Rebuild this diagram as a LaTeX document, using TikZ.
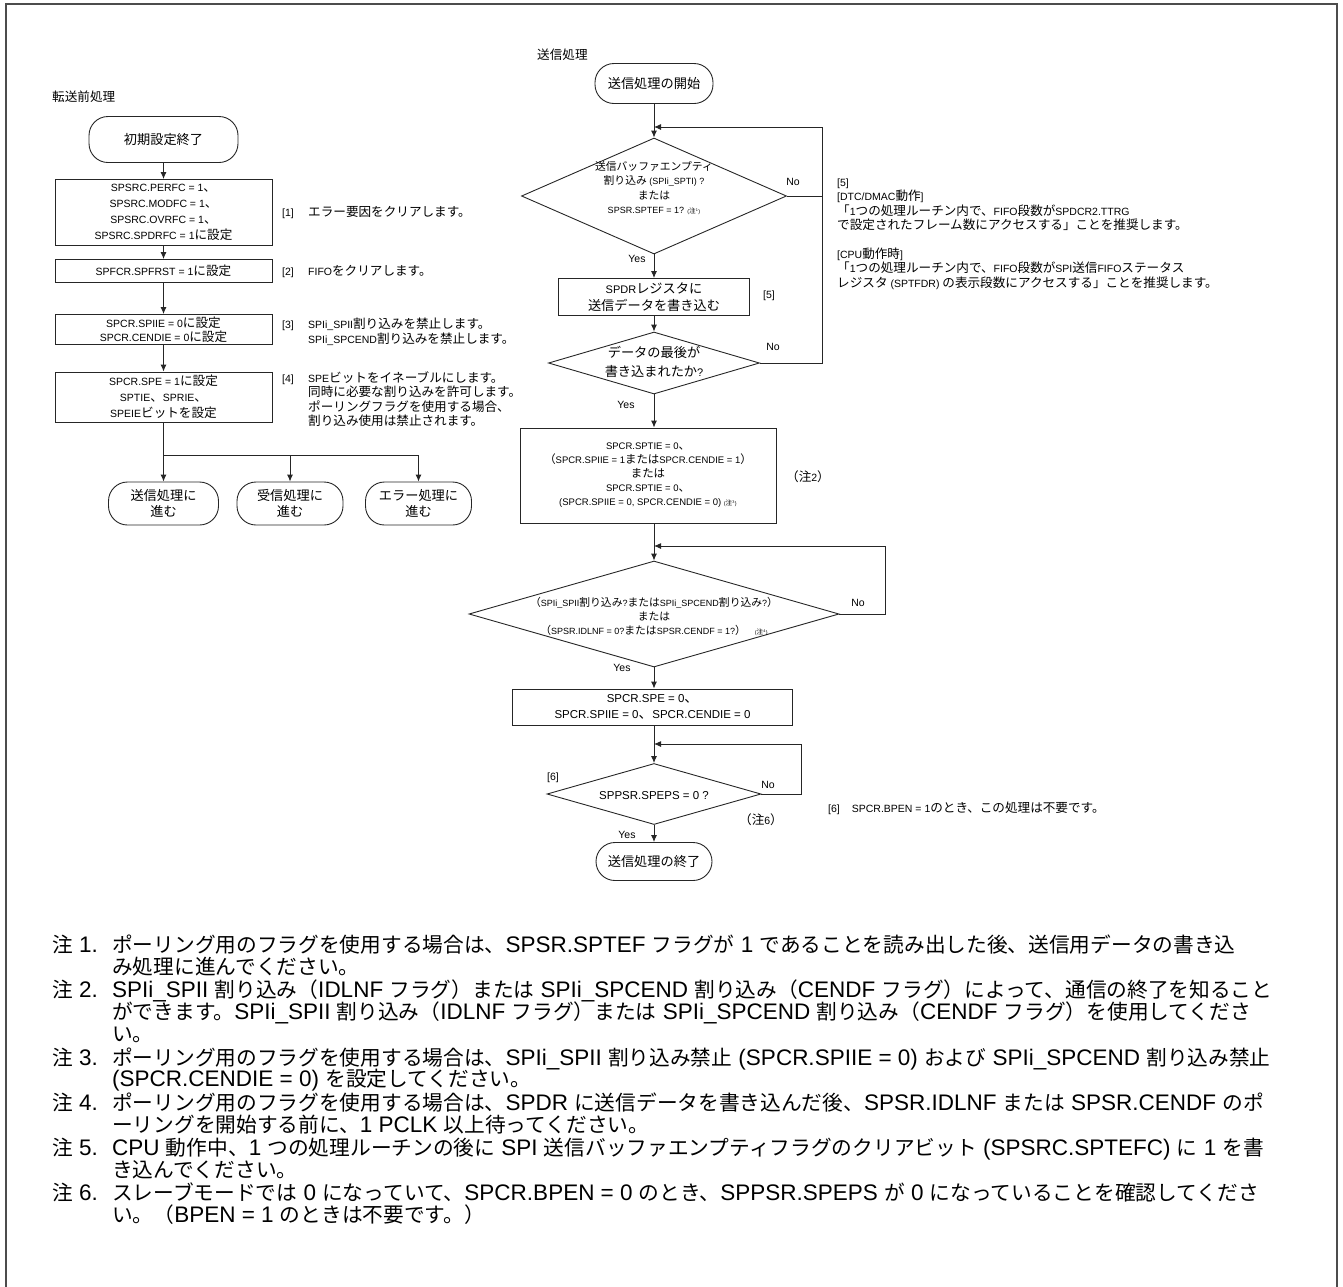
\documentclass[tikz,border=0pt]{standalone}
\usepackage{fontspec}
\usetikzlibrary{shapes.geometric,arrows.meta}
\setmainfont{Liberation Sans}
\newfontfamily\cjkA[Scale=1.2]{Noto Sans CJK JP}
\newfontfamily\cjkB[Scale=0.92]{Noto Sans CJK JP}
\def\cjksw{\cjkA}
\XeTeXinterchartokenstate=1
\newXeTeXintercharclass\cjkcls
\newcount\cjkc
\def\setcls#1#2#3{\cjkc=#1\relax\loop\XeTeXcharclass\cjkc=#3\relax\ifnum\cjkc<#2\relax\advance\cjkc by 1\relax\repeat}
\setcls{"0020}{"024F}{0}
\setcls{"2000}{"206F}{0}
\setcls{"3000}{"30FF}{\cjkcls}
\setcls{"4E00}{"9FFF}{\cjkcls}
\setcls{"FF00}{"FFEF}{\cjkcls}
\XeTeXinterchartoks 0 \cjkcls = {\cjksw}
\XeTeXinterchartoks 4095 \cjkcls = {\cjksw}
\XeTeXinterchartoks \cjkcls 0 = {\rmfamily}
\XeTeXinterchartoks \cjkcls 4095 = {\rmfamily}
\newcommand\annlab[1]{\makebox[26pt][l]{#1}}
\newcommand\chu[1]{{\fontsize{5.5}{6}\selectfont (注\textsuperscript{#1})}}
\begin{document}
\begin{tikzpicture}[x=1pt,y=-1pt,
  ln/.style={line width=0.9pt,draw=black!85},
  arr/.style={ln,-{Latex[length=7pt,width=6pt]}},
  box/.style={draw=black!85,line width=0.9pt,rectangle,inner sep=0pt,align=center},
  term/.style={box,rounded corners=19pt},
  dia/.style={draw=black!85,line width=0.9pt,diamond,inner sep=0pt},
  lbl/.style={inner sep=0pt,align=center,font=\fontsize{10.5}{13}\selectfont},
  ann/.style={inner sep=0pt,align=left,font=\fontsize{10.5}{14.5}\selectfont},
  note/.style={inner sep=0pt,anchor=base west,font=\fontsize{22.5}{22.5}\selectfont\let\cjksw\cjkB}]
\useasboundingbox (0,0) rectangle (1343,1286);
\draw[line width=1.4pt,draw=black!70] (6,1300) -- (6,4) -- (1337,4) -- (1337,1300);

% ---------- left column ----------
\node[lbl,anchor=west] (tl) at (52,97) {転送前処理};
\node[term,minimum width=149pt,minimum height=46pt,font=\fontsize{11}{14}\selectfont] (t0) at (163.5,139.5) {初期設定終了};
\node[box,minimum width=217pt,minimum height=66pt,font=\fontsize{10.5}{16}\selectfont] (b1) at (163.5,212.5) {SPSRC.PERFC = 1、\\SPSRC.MODFC = 1、\\SPSRC.OVRFC = 1、\\SPSRC.SPDRFC = 1に設定};
\node[box,minimum width=217pt,minimum height=23pt,font=\fontsize{10.5}{14}\selectfont] (b2) at (163.5,271) {SPFCR.SPFRST = 1に設定};
\node[box,minimum width=217pt,minimum height=30pt,font=\fontsize{10.5}{14}\selectfont] (b3) at (163.5,329.5) {SPCR.SPIIE = 0に設定\\SPCR.CENDIE = 0に設定};
\node[box,minimum width=217pt,minimum height=50pt,font=\fontsize{10.5}{16}\selectfont] (b4) at (163.5,397) {SPCR.SPE = 1に設定\\SPTIE、SPRIE、\\SPEIEビットを設定};
\draw[arr] (t0.south) -- (b1.north);
\draw[arr] (b1.south) -- (b2.north);
\draw[arr] (b2.south) -- (b3.north);
\draw[arr] (b3.south) -- (b4.north);
\node[term,minimum width=110pt,minimum height=43pt,font=\fontsize{11}{16}\selectfont] (e1) at (163.5,503.5) {送信処理に\\進む};
\node[term,minimum width=106pt,minimum height=43pt,font=\fontsize{11}{16}\selectfont] (e2) at (290,503.5) {受信処理に\\進む};
\node[term,minimum width=106pt,minimum height=43pt,font=\fontsize{11}{16}\selectfont] (e3) at (418.5,503.5) {エラー処理に\\進む};
\coordinate (jl) at (163.5,455);
\coordinate (jr) at (418.5,455);
\draw[ln] (b4.south) -- (jl) -- (jr);
\draw[arr] (jl) -- (e1.north);
\draw[arr] (jl -| e2.north) -- (e2.north);
\draw[arr] (jr) -- (e3.north);
\node[ann,anchor=west] (a1) at (282,212) {\annlab{[1]}エラー要因をクリアします。};
\node[ann,anchor=west] (a2) at (282,271) {\annlab{[2]}FIFOをクリアします。};
\node[ann,anchor=west] (a3) at (282,331.5) {\annlab{[3]}SPIi\_SPII割り込みを禁止します。\\\hspace*{26pt}SPIi\_SPCEND割り込みを禁止します。};
\node[ann,anchor=west] (a4) at (282,399) {\annlab{[4]}SPEビットをイネーブルにします。\\\hspace*{26pt}同時に必要な割り込みを許可します。\\\hspace*{26pt}ポーリングフラグを使用する場合、\\\hspace*{26pt}割り込み使用は禁止されます。};

% ---------- right column ----------
\node[lbl,anchor=west] (tr) at (537,55) {送信処理};
\node[term,minimum width=118pt,minimum height=40pt,font=\fontsize{11}{14}\selectfont] (s0) at (654,83.5) {送信処理の開始};
\node[dia,minimum width=265pt,minimum height=116pt] (d1) at (654,196) {};
\node[lbl,font=\fontsize{9}{14.5}\selectfont] (d1t) at (654,188) {送信バッファエンプティ\\割り込み (SPIi\_SPTI) ?\\または\\SPSR.SPTEF = 1? \chu{1}};
\coordinate (l1a) at (654,127);
\coordinate (l1r) at (822,127);
\draw[arr] (s0.south) -- (d1.north);
\draw[ln] (d1.east) -- (d1.east -| l1r);
\node[box,minimum width=191pt,minimum height=37pt,font=\fontsize{11}{17}\selectfont] (p1) at (654,297) {SPDRレジスタに\\送信データを書き込む};
\draw[arr] (d1.south) -- (p1.north);
\node[dia,minimum width=211pt,minimum height=62pt] (d2) at (654,363) {};
\node[lbl,font=\fontsize{11}{19}\selectfont] (d2t) at (654,362) {データの最後が\\書き込まれたか?};
\draw[arr] (p1.south) -- (d2.north);
\draw[ln] (d2.east) -- (d2.east -| l1r) -- (l1r);
\draw[arr] (l1r) -- (l1a);
\node[lbl] (no1) at (793,182) {No};
\node[lbl] (yes1) at (637,259) {Yes};
\node[lbl,anchor=west] (r5) at (763,296) {[5]};
\node[lbl] (no2) at (773,347) {No};
\node[lbl] (yes2) at (626,405) {Yes};
\node[ann,anchor=west] (a5) at (837,234) {[5]\\{}[DTC/DMAC動作]\\「1つの処理ルーチン内で、FIFO段数がSPDCR2.TTRG\\で設定されたフレーム数にアクセスする」ことを推奨します。\\[14pt]{}[CPU動作時]\\「1つの処理ルーチン内で、FIFO段数がSPI送信FIFOステータス\\レジスタ (SPTFDR) の表示段数にアクセスする」ことを推奨します。};

\node[box,minimum width=256pt,minimum height=95pt,font=\fontsize{9.5}{14}\selectfont] (p2) at (648,475.5) {SPCR.SPTIE = 0、\\（SPCR.SPIIE = 1またはSPCR.CENDIE = 1）\\または\\SPCR.SPTIE = 0、\\(SPCR.SPIIE = 0, SPCR.CENDIE = 0) \chu{3}};
\draw[arr] (d2.south) -- (d2.south |- p2.north);
\node[lbl] (n2l) at (808,477) {（注2）};

\node[dia,minimum width=370pt,minimum height=106pt] (d3) at (654,614) {};
\node[lbl,font=\fontsize{9}{14}\selectfont] (d3t) at (654,616) {（SPIi\_SPII割り込み?またはSPIi\_SPCEND割り込み?）\\または\\（SPSR.IDLNF = 0?またはSPSR.CENDF = 1?）\quad\chu{4}};
\coordinate (l2a) at (654,546);
\coordinate (l2r) at (885,546);
\draw[arr] (p2.south -| d3.north) -- (d3.north);
\draw[ln] (d3.east) -- (d3.east -| l2r) -- (l2r);
\draw[arr] (l2r) -- (l2a);
\node[lbl] (no3) at (858,603) {No};
\node[lbl] (yes3) at (622,668) {Yes};

\node[box,minimum width=280pt,minimum height=36pt,font=\fontsize{11.5}{16}\selectfont] (p3) at (652.5,707) {SPCR.SPE = 0、\\SPCR.SPIIE = 0、SPCR.CENDIE = 0};
\draw[arr] (d3.south) -- (d3.south |- p3.north);

\node[dia,minimum width=214pt,minimum height=61pt] (d4) at (654,794) {};
\node[lbl,font=\fontsize{11.5}{14}\selectfont] (d4t) at (654,796) {SPPSR.SPEPS = 0 ?};
\coordinate (l3a) at (654,744);
\coordinate (l3r) at (801,744);
\draw[arr] (p3.south -| d4.north) -- (d4.north);
\draw[ln] (d4.east) -- (d4.east -| l3r) -- (l3r);
\draw[arr] (l3r) -- (l3a);
\node[lbl] (r6) at (553,778) {[6]};
\node[lbl] (no4) at (768,785) {No};
\node[lbl] (n6l) at (761,820) {（注6）};
\node[lbl] (yes4) at (627,835) {Yes};
\node[term,minimum width=116pt,minimum height=38pt,font=\fontsize{11}{14}\selectfont] (s1) at (654,861.5) {送信処理の終了};
\draw[arr] (d4.south) -- (s1.north);
\node[ann,anchor=west] (a6) at (828,808) {[6]\hspace{12pt}SPCR.BPEN = 1のとき、この処理は不要です。};

% ---------- notes ----------
\node[note] (m1) at (52,952) {注 1.};
\node[note] (n1a) at (112,952) {ポーリング用のフラグを使用する場合は、SPSR.SPTEF フラグが 1 であることを読み出した後、送信用データの書き込};
\node[note] (n1b) at (112,974) {み処理に進んでください。};
\node[note] (m2) at (52,997) {注 2.};
\node[note] (n2a) at (112,997) {SPIi\_SPII 割り込み（IDLNF フラグ）または SPIi\_SPCEND 割り込み（CENDF フラグ）によって、通信の終了を知ること};
\node[note] (n2b) at (112,1019) {ができます。SPIi\_SPII 割り込み（IDLNF フラグ）または SPIi\_SPCEND 割り込み（CENDF フラグ）を使用してくださ};
\node[note] (n2c) at (112,1041) {い。};
\node[note] (m3) at (52,1065) {注 3.};
\node[note] (n3a) at (112,1065) {ポーリング用のフラグを使用する場合は、SPIi\_SPII 割り込み禁止 (SPCR.SPIIE = 0) および SPIi\_SPCEND 割り込み禁止};
\node[note] (n3b) at (112,1086) {(SPCR.CENDIE = 0) を設定してください。};
\node[note] (m4) at (52,1110) {注 4.};
\node[note] (n4a) at (112,1110) {ポーリング用のフラグを使用する場合は、SPDR に送信データを書き込んだ後、SPSR.IDLNF または SPSR.CENDF のポ};
\node[note] (n4b) at (112,1132) {ーリングを開始する前に、1 PCLK 以上待ってください。};
\node[note] (m5) at (52,1155) {注 5.};
\node[note] (n5a) at (112,1155) {CPU 動作中、1 つの処理ルーチンの後に SPI 送信バッファエンプティフラグのクリアビット (SPSRC.SPTEFC) に 1 を書};
\node[note] (n5b) at (112,1177) {き込んでください。};
\node[note] (m6) at (52,1200) {注 6.};
\node[note] (n6a) at (112,1200) {スレーブモードでは 0 になっていて、SPCR.BPEN = 0 のとき、SPPSR.SPEPS が 0 になっていることを確認してくださ};
\node[note] (n6b) at (112,1222) {い。（BPEN = 1 のときは不要です。）};
\end{tikzpicture}
\end{document}
